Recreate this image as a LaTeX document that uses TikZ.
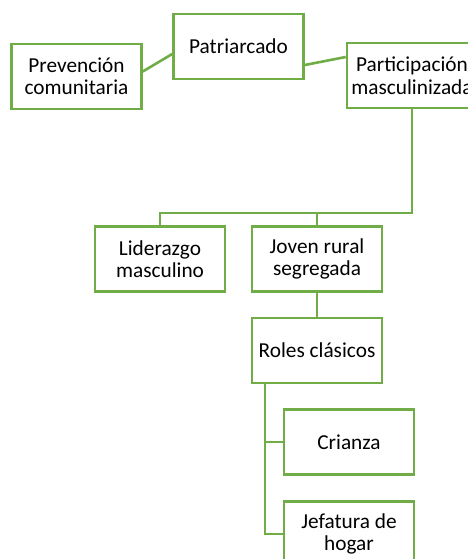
\documentclass[tikz,border=0pt]{standalone}
\usepackage{fontspec}
\setmainfont{Carlito}
\definecolor{boxgreen}{RGB}{112,173,71}
\begin{document}
\begin{tikzpicture}[x=1pt,y=-1pt,
  box/.style={draw=boxgreen,line width=2.6pt,fill=white,minimum width=130pt,minimum height=65pt,
    inner sep=0pt,align=center,font=\fontsize{21.3}{22.5}\selectfont,text=black},
  link/.style={draw=boxgreen,line width=2.6pt}]
\useasboundingbox[clip] (0,0) rectangle (468,559);
\node[box] (prev) at (76.5,76.5) {Prevención\\comunitaria};
\node[box] (pat) at (238.5,46.5) {Patriarcado};
\node[box] (part) at (412,75.5) {Participación\\masculinizada};
\node[box] (lid) at (160,259) {Liderazgo\\masculino};
\node[box] (jov) at (317,259) {Joven rural\\segregada};
\node[box] (rol) at (317,350.5) {Roles clásicos};
\node[box] (cri) at (349,442) {Crianza};
\node[box] (jef) at (349,534) {Jefatura de\\hogar};
\coordinate (hy) at (0,213);
\coordinate (rx) at (265,0);
\draw[link] ([yshift=5pt]prev.east) -- ([yshift=-7.5pt]pat.west);
\draw[link] ([yshift=-18.5pt]pat.east) -- ([yshift=18.5pt]part.west);
\draw[link] (part.south) -- (part.south |- hy) -- (lid.north |- hy) -- (lid.north);
\draw[link] (jov.north |- hy) -- (jov.north);
\draw[link] (jov.south) -- (rol.north);
\draw[link] (rx |- rol.south) -- (rx |- jef.west) -- (jef.west);
\draw[link] (rx |- cri.west) -- (cri.west);
\end{tikzpicture}
\end{document}
